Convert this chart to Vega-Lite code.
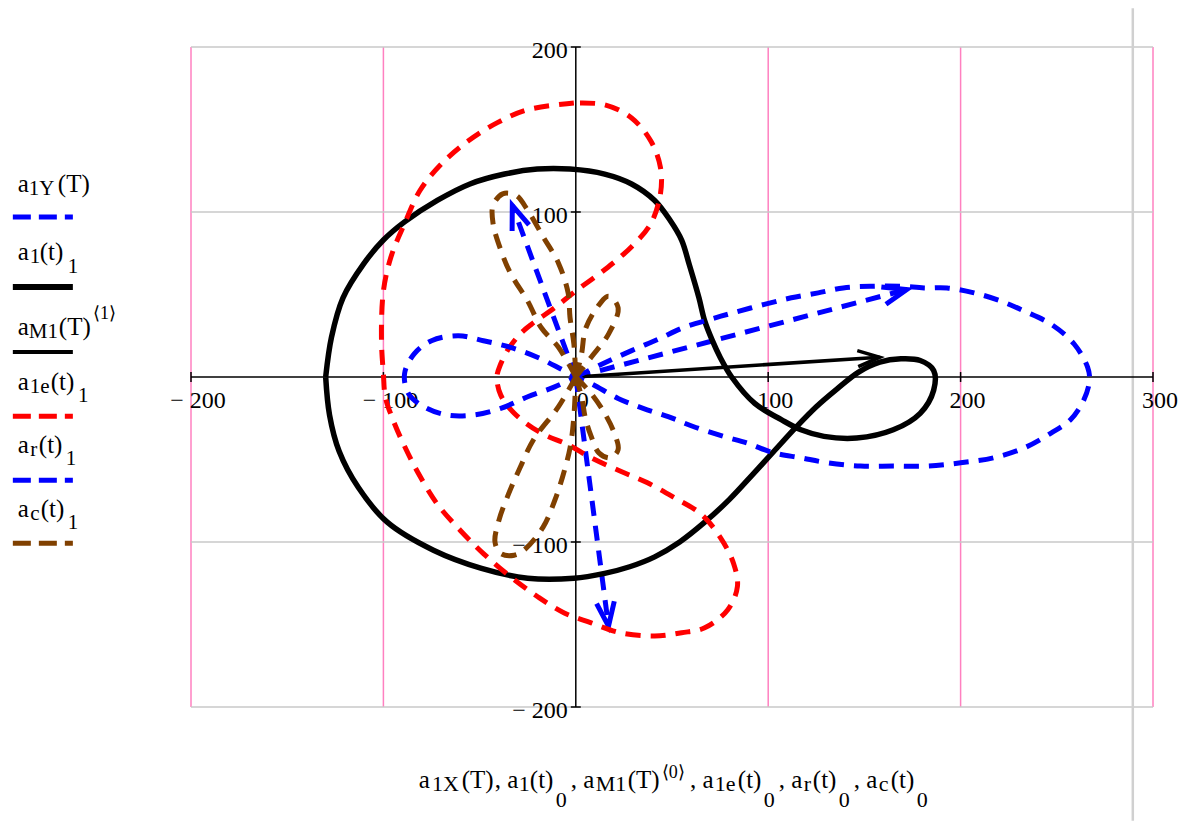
{
  "$schema": "https://vega.github.io/schema/vega-lite/v6.json",
  "width": 962,
  "height": 660,
  "autosize": {"type": "none"},
  "padding": {"left": 191, "top": 47, "right": 42, "bottom": 114},
  "background": "white",
  "data": {"values": [{}]},
  "config": {
    "view": {"stroke": null},
    "mark": {"font": "Liberation Serif"},
    "text": {"font": "Liberation Serif", "align": "left", "baseline": "alphabetic", "color": "black", "fontSize": 25}
  },
  "datasets": {
    "gridV": [{"v": -200}, {"v": -100}, {"v": 100}, {"v": 200}, {"v": 300}],
    "gridH": [{"v": -200}, {"v": -100}, {"v": 100}, {"v": 200}],
    "ticksX": [{"v": -200, "lab": "− 200"}, {"v": -100, "lab": "− 100"}, {"v": 0, "lab": "0"}, {"v": 100, "lab": "100"}, {"v": 200, "lab": "200"}, {"v": 300, "lab": "300"}],
    "ticksY": [{"v": -200, "lab": "− 200"}, {"v": -100, "lab": "− 100"}, {"v": 100, "lab": "100"}, {"v": 200, "lab": "200"}],
    "vec": [
      {"p": 1, "x": 0, "y": 0}, {"p": 1, "x": 172, "y": 53},
      {"p": 2, "x": 0, "y": 0}, {"p": 2, "x": -33, "y": 104},
      {"p": 3, "x": 0, "y": 0}, {"p": 3, "x": 17, "y": -151}
    ],
    "vecHead": [
      {"p": 1, "x": 161.2, "y": 44.1}, {"p": 1, "x": 172, "y": 53}, {"p": 1, "x": 158.8, "y": 54.6},
      {"p": 2, "x": -24.3, "y": 92.2}, {"p": 2, "x": -33, "y": 104}, {"p": 2, "x": -33.1, "y": 88.5},
      {"p": 3, "x": 20, "y": -135.9}, {"p": 3, "x": 17, "y": -151}, {"p": 3, "x": 10.8, "y": -137.3}
    ],
    "a1": [
      {"x": -130, "y": 0}, {"x": -127, "y": 24}, {"x": -121, "y": 48}, {"x": -110, "y": 69}, {"x": -100, "y": 83},
      {"x": -89, "y": 94}, {"x": -72, "y": 107}, {"x": -55, "y": 117}, {"x": -37, "y": 123}, {"x": -20, "y": 126},
      {"x": -3, "y": 126}, {"x": 15, "y": 123}, {"x": 29, "y": 117}, {"x": 41, "y": 107}, {"x": 49, "y": 95},
      {"x": 55, "y": 83}, {"x": 59, "y": 68}, {"x": 64, "y": 48}, {"x": 67, "y": 34}, {"x": 71, "y": 22},
      {"x": 75, "y": 12}, {"x": 81, "y": 0}, {"x": 93, "y": -16}, {"x": 107, "y": -26}, {"x": 117, "y": -32},
      {"x": 129, "y": -36}, {"x": 146, "y": -37}, {"x": 165, "y": -32}, {"x": 179, "y": -22}, {"x": 186, "y": -8},
      {"x": 186, "y": 4}, {"x": 179, "y": 10}, {"x": 169, "y": 11}, {"x": 158, "y": 9}, {"x": 147, "y": 3},
      {"x": 136, "y": -7}, {"x": 125, "y": -18}, {"x": 114, "y": -31}, {"x": 103, "y": -45}, {"x": 92, "y": -59},
      {"x": 80, "y": -74}, {"x": 67, "y": -88}, {"x": 54, "y": -100}, {"x": 41, "y": -109}, {"x": 28, "y": -115},
      {"x": 15, "y": -119}, {"x": -1, "y": -122}, {"x": -25, "y": -122}, {"x": -49, "y": -116}, {"x": -74, "y": -105},
      {"x": -98, "y": -88}, {"x": -113, "y": -67}, {"x": -123, "y": -45}, {"x": -128, "y": -23}, {"x": -130, "y": 0}
    ],
    "aM1": [
      {"p": 1, "x": 0, "y": 0}, {"p": 1, "x": 158, "y": 12},
      {"p": 2, "x": 146.3, "y": 16.0}, {"p": 2, "x": 158, "y": 12}, {"p": 2, "x": 146.8, "y": 6.3}
    ],
    "a1e": [
      {"x": -1, "y": 166}, {"x": -25, "y": 162}, {"x": -41, "y": 154}, {"x": -56, "y": 143}, {"x": -70, "y": 129},
      {"x": -81, "y": 113}, {"x": -89, "y": 93}, {"x": -96, "y": 73}, {"x": -100, "y": 52}, {"x": -101, "y": 22},
      {"x": -100, "y": 2}, {"x": -99, "y": -12}, {"x": -95, "y": -26}, {"x": -89, "y": -42}, {"x": -82, "y": -58},
      {"x": -72, "y": -77}, {"x": -60, "y": -93}, {"x": -48, "y": -107}, {"x": -34, "y": -121}, {"x": -20, "y": -133},
      {"x": -6, "y": -143}, {"x": 8, "y": -149}, {"x": 23, "y": -155}, {"x": 41, "y": -157}, {"x": 55, "y": -155},
      {"x": 67, "y": -152}, {"x": 79, "y": -141}, {"x": 84, "y": -127}, {"x": 82, "y": -113}, {"x": 75, "y": -97},
      {"x": 65, "y": -83}, {"x": 51, "y": -73}, {"x": 37, "y": -64}, {"x": 23, "y": -57}, {"x": 8, "y": -49},
      {"x": -4, "y": -41}, {"x": -18, "y": -34}, {"x": -32, "y": -22}, {"x": -39, "y": -11}, {"x": -41, "y": 0},
      {"x": -39, "y": 8}, {"x": -35, "y": 17}, {"x": -29, "y": 26}, {"x": -23, "y": 32}, {"x": -11, "y": 42},
      {"x": 1, "y": 53}, {"x": 15, "y": 65}, {"x": 29, "y": 79}, {"x": 39, "y": 93}, {"x": 44, "y": 111},
      {"x": 44, "y": 127}, {"x": 39, "y": 143}, {"x": 29, "y": 157}, {"x": 15, "y": 165}, {"x": -1, "y": 166}
    ],
    "ar": [
      {"x": 0, "y": 0}, {"x": 14, "y": 8}, {"x": 29, "y": 16}, {"x": 43, "y": 23}, {"x": 56, "y": 30},
      {"x": 70, "y": 35}, {"x": 82, "y": 39}, {"x": 98, "y": 44}, {"x": 112, "y": 48}, {"x": 126, "y": 51},
      {"x": 139, "y": 54}, {"x": 153, "y": 55}, {"x": 169, "y": 55}, {"x": 181, "y": 54}, {"x": 193, "y": 54},
      {"x": 207, "y": 51}, {"x": 221, "y": 46}, {"x": 233, "y": 40}, {"x": 247, "y": 32}, {"x": 259, "y": 20},
      {"x": 266, "y": 6}, {"x": 267, "y": -2}, {"x": 264, "y": -14}, {"x": 257, "y": -26}, {"x": 247, "y": -34},
      {"x": 233, "y": -43}, {"x": 217, "y": -49}, {"x": 200, "y": -52}, {"x": 183, "y": -54}, {"x": 165, "y": -54},
      {"x": 148, "y": -54}, {"x": 131, "y": -52}, {"x": 117, "y": -49}, {"x": 103, "y": -46}, {"x": 89, "y": -40},
      {"x": 77, "y": -36}, {"x": 61, "y": -30}, {"x": 48, "y": -24}, {"x": 35, "y": -19}, {"x": 22, "y": -13},
      {"x": 8, "y": -4}, {"x": 0, "y": 0}, {"x": -8, "y": 5}, {"x": -20, "y": 12}, {"x": -34, "y": 18},
      {"x": -48, "y": 22}, {"x": -61, "y": 25}, {"x": -75, "y": 22}, {"x": -84, "y": 14}, {"x": -89, "y": 2},
      {"x": -87, "y": -10}, {"x": -79, "y": -18}, {"x": -67, "y": -23}, {"x": -53, "y": -23}, {"x": -39, "y": -19},
      {"x": -25, "y": -12}, {"x": -11, "y": -6}, {"x": 0, "y": 0}
    ],
    "ac": [
      {"p": 1, "x": 0, "y": 0}, {"p": 1, "x": -9, "y": 18}, {"p": 1, "x": -18, "y": 30}, {"p": 1, "x": -25, "y": 46},
      {"p": 1, "x": -34, "y": 63}, {"p": 1, "x": -39, "y": 77}, {"p": 1, "x": -43, "y": 93}, {"p": 1, "x": -43, "y": 104},
      {"p": 1, "x": -38, "y": 111}, {"p": 1, "x": -31, "y": 110}, {"p": 1, "x": -25, "y": 101}, {"p": 1, "x": -17, "y": 85},
      {"p": 1, "x": -9, "y": 69}, {"p": 1, "x": -4, "y": 51}, {"p": 1, "x": -3, "y": 36}, {"p": 1, "x": -1, "y": 20},
      {"p": 1, "x": 0, "y": 0},
      {"p": 2, "x": 0, "y": 0}, {"p": 2, "x": -9, "y": -18}, {"p": 2, "x": -22, "y": -38}, {"p": 2, "x": -29, "y": -55},
      {"p": 2, "x": -35, "y": -71}, {"p": 2, "x": -40, "y": -87}, {"p": 2, "x": -42, "y": -100}, {"p": 2, "x": -39, "y": -107},
      {"p": 2, "x": -32, "y": -108}, {"p": 2, "x": -27, "y": -105}, {"p": 2, "x": -17, "y": -91}, {"p": 2, "x": -11, "y": -75},
      {"p": 2, "x": -7, "y": -61}, {"p": 2, "x": -3, "y": -43}, {"p": 2, "x": -1, "y": -24}, {"p": 2, "x": 0, "y": 0},
      {"p": 3, "x": 0, "y": 0}, {"p": 3, "x": 3, "y": 14}, {"p": 3, "x": 5, "y": 29}, {"p": 3, "x": 11, "y": 42},
      {"p": 3, "x": 17, "y": 49}, {"p": 3, "x": 22, "y": 42}, {"p": 3, "x": 17, "y": 26}, {"p": 3, "x": 8, "y": 12},
      {"p": 3, "x": 0, "y": 0},
      {"p": 4, "x": 0, "y": 0}, {"p": 4, "x": 3, "y": -12}, {"p": 4, "x": 5, "y": -25}, {"p": 4, "x": 8, "y": -36},
      {"p": 4, "x": 12, "y": -46}, {"p": 4, "x": 18, "y": -49}, {"p": 4, "x": 22, "y": -44}, {"p": 4, "x": 20, "y": -34},
      {"p": 4, "x": 15, "y": -22}, {"p": 4, "x": 8, "y": -10}, {"p": 4, "x": 0, "y": 0}
    ]
  },
  "layer": [
    {
      "data": {"name": "gridV"},
      "mark": {"type": "rule", "color": "#ff80c0", "strokeWidth": 1.5},
      "encoding": {
        "x": {"field": "v", "type": "quantitative", "scale": {"domain": [-200, 300], "nice": false, "zero": false}, "axis": null}
      }
    },
    {
      "data": {"name": "gridH"},
      "mark": {"type": "rule", "color": "#c8c8c8", "strokeWidth": 1.5},
      "encoding": {
        "y": {"field": "v", "type": "quantitative", "scale": {"domain": [-200, 200], "nice": false, "zero": false}, "axis": null}
      }
    },
    {
      "mark": {"type": "rule", "color": "#d0d0d0", "strokeWidth": 2.5, "clip": false},
      "encoding": {
        "x": {"datum": 289.5, "axis": null},
        "y": {"datum": 223.5, "axis": null},
        "y2": {"datum": -269}
      }
    },
    {
      "mark": {"type": "rule", "color": "black", "strokeWidth": 1.5},
      "encoding": {"y": {"datum": 0, "axis": null}}
    },
    {
      "mark": {"type": "rule", "color": "black", "strokeWidth": 1.5},
      "encoding": {"x": {"datum": 0, "axis": null}}
    },
    {
      "data": {"name": "ticksX"},
      "mark": {"type": "rule", "color": "black", "strokeWidth": 1.5},
      "encoding": {
        "x": {"field": "v", "type": "quantitative", "axis": null},
        "y": {"datum": -3, "axis": null},
        "y2": {"datum": 3}
      }
    },
    {
      "data": {"name": "ticksX"},
      "mark": {"type": "text", "font": "Liberation Serif", "fontSize": 24, "align": "center", "dx": 7, "dy": 31, "clip": false},
      "encoding": {
        "x": {"field": "v", "type": "quantitative", "axis": null},
        "y": {"datum": 0, "axis": null},
        "text": {"field": "lab"}
      }
    },
    {
      "data": {"name": "ticksY"},
      "mark": {"type": "rule", "color": "black", "strokeWidth": 1.5},
      "encoding": {
        "y": {"field": "v", "type": "quantitative", "axis": null},
        "x": {"datum": -2.6, "axis": null},
        "x2": {"datum": 2.6}
      }
    },
    {
      "data": {"name": "ticksY"},
      "mark": {"type": "text", "font": "Liberation Serif", "fontSize": 24, "align": "right", "dx": -8, "dy": 11, "clip": false},
      "encoding": {
        "y": {"field": "v", "type": "quantitative", "axis": null},
        "x": {"datum": 0, "axis": null},
        "text": {"field": "lab"}
      }
    },
    {
      "data": {"name": "vec"},
      "mark": {"type": "line", "color": "#0000ff", "strokeWidth": 5, "strokeDash": [15, 10]},
      "encoding": {
        "x": {"field": "x", "type": "quantitative", "axis": null},
        "y": {"field": "y", "type": "quantitative", "axis": null},
        "detail": {"field": "p"},
        "order": {"value": null}
      }
    },
    {
      "data": {"name": "vecHead"},
      "mark": {"type": "line", "color": "#0000ff", "strokeWidth": 5},
      "encoding": {
        "x": {"field": "x", "type": "quantitative", "axis": null},
        "y": {"field": "y", "type": "quantitative", "axis": null},
        "detail": {"field": "p"},
        "order": {"value": null}
      }
    },
    {
      "data": {"name": "a1"},
      "mark": {"type": "line", "color": "black", "strokeWidth": 5.5, "interpolate": "catmull-rom"},
      "encoding": {
        "x": {"field": "x", "type": "quantitative", "axis": null},
        "y": {"field": "y", "type": "quantitative", "axis": null},
        "order": {"value": null}
      }
    },
    {
      "data": {"name": "aM1"},
      "mark": {"type": "line", "color": "black", "strokeWidth": 3.5},
      "encoding": {
        "x": {"field": "x", "type": "quantitative", "axis": null},
        "y": {"field": "y", "type": "quantitative", "axis": null},
        "detail": {"field": "p"},
        "order": {"value": null}
      }
    },
    {
      "data": {"name": "a1e"},
      "mark": {"type": "line", "color": "#ff0000", "strokeWidth": 5, "strokeDash": [15, 10], "interpolate": "catmull-rom"},
      "encoding": {
        "x": {"field": "x", "type": "quantitative", "axis": null},
        "y": {"field": "y", "type": "quantitative", "axis": null},
        "order": {"value": null}
      }
    },
    {
      "data": {"name": "ar"},
      "mark": {"type": "line", "color": "#0000ff", "strokeWidth": 5, "strokeDash": [15, 10], "interpolate": "catmull-rom"},
      "encoding": {
        "x": {"field": "x", "type": "quantitative", "axis": null},
        "y": {"field": "y", "type": "quantitative", "axis": null},
        "order": {"value": null}
      }
    },
    {
      "data": {"name": "ac"},
      "mark": {"type": "line", "color": "#804000", "strokeWidth": 5, "strokeDash": [15, 10], "interpolate": "catmull-rom"},
      "encoding": {
        "x": {"field": "x", "type": "quantitative", "axis": null},
        "y": {"field": "y", "type": "quantitative", "axis": null},
        "detail": {"field": "p"},
        "order": {"value": null}
      }
    },
    {"mark": {"type": "rule", "color": "#0000ff", "strokeWidth": 5, "strokeDash": [18, 8], "clip": false},
     "encoding": {"x": {"datum": -292.6, "axis": null}, "x2": {"datum": -261.4}, "y": {"datum": 97.0, "axis": null}}},
    {"mark": {"type": "rule", "color": "black", "strokeWidth": 6, "clip": false},
     "encoding": {"x": {"datum": -292.6, "axis": null}, "x2": {"datum": -261.4}, "y": {"datum": 54.5, "axis": null}}},
    {"mark": {"type": "rule", "color": "black", "strokeWidth": 4, "clip": false},
     "encoding": {"x": {"datum": -292.6, "axis": null}, "x2": {"datum": -261.4}, "y": {"datum": 15.2, "axis": null}}},
    {"mark": {"type": "rule", "color": "#ff0000", "strokeWidth": 5, "strokeDash": [18, 8], "clip": false},
     "encoding": {"x": {"datum": -292.6, "axis": null}, "x2": {"datum": -261.4}, "y": {"datum": -23.8, "axis": null}}},
    {"mark": {"type": "rule", "color": "#0000ff", "strokeWidth": 5, "strokeDash": [18, 8], "clip": false},
     "encoding": {"x": {"datum": -292.6, "axis": null}, "x2": {"datum": -261.4}, "y": {"datum": -62.6, "axis": null}}},
    {"mark": {"type": "rule", "color": "#804000", "strokeWidth": 5, "strokeDash": [18, 8], "clip": false},
     "encoding": {"x": {"datum": -292.6, "axis": null}, "x2": {"datum": -261.4}, "y": {"datum": -100.8, "axis": null}}},

    {"mark": {"type": "text", "font": "Liberation Serif", "text": "a"}, "encoding": {"x": {"datum": -290, "axis": null}, "y": {"datum": 111.9, "axis": null}}},
    {"mark": {"type": "text", "font": "Liberation Serif", "text": "1Y", "fontSize": 21}, "encoding": {"x": {"datum": -284.3, "axis": null}, "y": {"datum": 110.1, "axis": null}}},
    {"mark": {"type": "text", "font": "Liberation Serif", "text": "(T)"}, "encoding": {"x": {"datum": -269.2, "axis": null}, "y": {"datum": 111.9, "axis": null}}},

    {"mark": {"type": "text", "font": "Liberation Serif", "text": "a"}, "encoding": {"x": {"datum": -290, "axis": null}, "y": {"datum": 70.7, "axis": null}}},
    {"mark": {"type": "text", "font": "Liberation Serif", "text": "1", "fontSize": 21}, "encoding": {"x": {"datum": -283.8, "axis": null}, "y": {"datum": 68.9, "axis": null}}},
    {"mark": {"type": "text", "font": "Liberation Serif", "text": "(t)"}, "encoding": {"x": {"datum": -278.6, "axis": null}, "y": {"datum": 70.7, "axis": null}}},
    {"mark": {"type": "text", "font": "Liberation Serif", "text": "1", "fontSize": 21}, "encoding": {"x": {"datum": -264.0, "axis": null}, "y": {"datum": 62.8, "axis": null}}},

    {"mark": {"type": "text", "font": "Liberation Serif", "text": "a"}, "encoding": {"x": {"datum": -290, "axis": null}, "y": {"datum": 25.3, "axis": null}}},
    {"mark": {"type": "text", "font": "Liberation Serif", "text": "M1", "fontSize": 21}, "encoding": {"x": {"datum": -284.3, "axis": null}, "y": {"datum": 23.5, "axis": null}}},
    {"mark": {"type": "text", "font": "Liberation Serif", "text": "(T)"}, "encoding": {"x": {"datum": -268.7, "axis": null}, "y": {"datum": 25.3, "axis": null}}},
    {"mark": {"type": "text", "font": "Liberation Serif", "text": "⟨1⟩", "fontSize": 18}, "encoding": {"x": {"datum": -251.0, "axis": null}, "y": {"datum": 35.0, "axis": null}}},

    {"mark": {"type": "text", "font": "Liberation Serif", "text": "a"}, "encoding": {"x": {"datum": -290, "axis": null}, "y": {"datum": -8.1, "axis": null}}},
    {"mark": {"type": "text", "font": "Liberation Serif", "text": "1e", "fontSize": 21}, "encoding": {"x": {"datum": -283.8, "axis": null}, "y": {"datum": -9.8, "axis": null}}},
    {"mark": {"type": "text", "font": "Liberation Serif", "text": "(t)"}, "encoding": {"x": {"datum": -272.9, "axis": null}, "y": {"datum": -8.1, "axis": null}}},
    {"mark": {"type": "text", "font": "Liberation Serif", "text": "1", "fontSize": 21}, "encoding": {"x": {"datum": -258.7, "axis": null}, "y": {"datum": -15.3, "axis": null}}},

    {"mark": {"type": "text", "font": "Liberation Serif", "text": "a"}, "encoding": {"x": {"datum": -290, "axis": null}, "y": {"datum": -46.2, "axis": null}}},
    {"mark": {"type": "text", "font": "Liberation Serif", "text": "r", "fontSize": 21}, "encoding": {"x": {"datum": -283.6, "axis": null}, "y": {"datum": -48.0, "axis": null}}},
    {"mark": {"type": "text", "font": "Liberation Serif", "text": "(t)"}, "encoding": {"x": {"datum": -279.1, "axis": null}, "y": {"datum": -46.2, "axis": null}}},
    {"mark": {"type": "text", "font": "Liberation Serif", "text": "1", "fontSize": 21}, "encoding": {"x": {"datum": -265.1, "axis": null}, "y": {"datum": -53.5, "axis": null}}},

    {"mark": {"type": "text", "font": "Liberation Serif", "text": "a"}, "encoding": {"x": {"datum": -290, "axis": null}, "y": {"datum": -85.0, "axis": null}}},
    {"mark": {"type": "text", "font": "Liberation Serif", "text": "c", "fontSize": 21}, "encoding": {"x": {"datum": -283.6, "axis": null}, "y": {"datum": -86.8, "axis": null}}},
    {"mark": {"type": "text", "font": "Liberation Serif", "text": "(t)"}, "encoding": {"x": {"datum": -278.1, "axis": null}, "y": {"datum": -85.0, "axis": null}}},
    {"mark": {"type": "text", "font": "Liberation Serif", "text": "1", "fontSize": 21}, "encoding": {"x": {"datum": -264.0, "axis": null}, "y": {"datum": -92.3, "axis": null}}},

    {"mark": {"type": "text", "font": "Liberation Serif", "text": "a"}, "encoding": {"x": {"datum": -81.6, "axis": null}, "y": {"datum": -249.3, "axis": null}}},
    {"mark": {"type": "text", "font": "Liberation Serif", "text": "1X", "fontSize": 22}, "encoding": {"x": {"datum": -74.8, "axis": null}, "y": {"datum": -251.1, "axis": null}}},
    {"mark": {"type": "text", "font": "Liberation Serif", "text": "(T)"}, "encoding": {"x": {"datum": -59.3, "axis": null}, "y": {"datum": -249.3, "axis": null}}},
    {"mark": {"type": "text", "font": "Liberation Serif", "text": ", a"}, "encoding": {"x": {"datum": -42.1, "axis": null}, "y": {"datum": -249.3, "axis": null}}},
    {"mark": {"type": "text", "font": "Liberation Serif", "text": "1", "fontSize": 22}, "encoding": {"x": {"datum": -29.6, "axis": null}, "y": {"datum": -251.1, "axis": null}}},
    {"mark": {"type": "text", "font": "Liberation Serif", "text": "(t)"}, "encoding": {"x": {"datum": -23.9, "axis": null}, "y": {"datum": -249.3, "axis": null}}},
    {"mark": {"type": "text", "font": "Liberation Serif", "text": "0", "fontSize": 22}, "encoding": {"x": {"datum": -10.4, "axis": null}, "y": {"datum": -260.8, "axis": null}}},
    {"mark": {"type": "text", "font": "Liberation Serif", "text": ", a"}, "encoding": {"x": {"datum": -2.6, "axis": null}, "y": {"datum": -249.3, "axis": null}}},
    {"mark": {"type": "text", "font": "Liberation Serif", "text": "M1", "fontSize": 22}, "encoding": {"x": {"datum": 10.4, "axis": null}, "y": {"datum": -251.1, "axis": null}}},
    {"mark": {"type": "text", "font": "Liberation Serif", "text": "(T)"}, "encoding": {"x": {"datum": 27.0, "axis": null}, "y": {"datum": -249.3, "axis": null}}},
    {"mark": {"type": "text", "font": "Liberation Serif", "text": "⟨0⟩", "fontSize": 18}, "encoding": {"x": {"datum": 44.7, "axis": null}, "y": {"datum": -243.2, "axis": null}}},
    {"mark": {"type": "text", "font": "Liberation Serif", "text": ", a"}, "encoding": {"x": {"datum": 59.3, "axis": null}, "y": {"datum": -249.3, "axis": null}}},
    {"mark": {"type": "text", "font": "Liberation Serif", "text": "1e", "fontSize": 22}, "encoding": {"x": {"datum": 72.2, "axis": null}, "y": {"datum": -251.1, "axis": null}}},
    {"mark": {"type": "text", "font": "Liberation Serif", "text": "(t)"}, "encoding": {"x": {"datum": 84.2, "axis": null}, "y": {"datum": -249.3, "axis": null}}},
    {"mark": {"type": "text", "font": "Liberation Serif", "text": "0", "fontSize": 22}, "encoding": {"x": {"datum": 97.7, "axis": null}, "y": {"datum": -260.8, "axis": null}}},
    {"mark": {"type": "text", "font": "Liberation Serif", "text": ", a"}, "encoding": {"x": {"datum": 105.5, "axis": null}, "y": {"datum": -249.3, "axis": null}}},
    {"mark": {"type": "text", "font": "Liberation Serif", "text": "r", "fontSize": 22}, "encoding": {"x": {"datum": 118.5, "axis": null}, "y": {"datum": -251.1, "axis": null}}},
    {"mark": {"type": "text", "font": "Liberation Serif", "text": "(t)"}, "encoding": {"x": {"datum": 123.2, "axis": null}, "y": {"datum": -249.3, "axis": null}}},
    {"mark": {"type": "text", "font": "Liberation Serif", "text": "0", "fontSize": 22}, "encoding": {"x": {"datum": 136.7, "axis": null}, "y": {"datum": -260.8, "axis": null}}},
    {"mark": {"type": "text", "font": "Liberation Serif", "text": ", a"}, "encoding": {"x": {"datum": 144.5, "axis": null}, "y": {"datum": -249.3, "axis": null}}},
    {"mark": {"type": "text", "font": "Liberation Serif", "text": "c", "fontSize": 22}, "encoding": {"x": {"datum": 157.5, "axis": null}, "y": {"datum": -251.1, "axis": null}}},
    {"mark": {"type": "text", "font": "Liberation Serif", "text": "(t)"}, "encoding": {"x": {"datum": 163.7, "axis": null}, "y": {"datum": -249.3, "axis": null}}},
    {"mark": {"type": "text", "font": "Liberation Serif", "text": "0", "fontSize": 22}, "encoding": {"x": {"datum": 177.2, "axis": null}, "y": {"datum": -260.8, "axis": null}}}
  ]
}
